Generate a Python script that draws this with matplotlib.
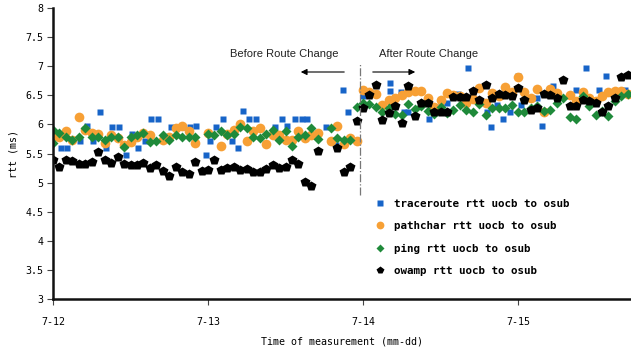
import matplotlib
matplotlib.use("Agg")
import matplotlib.pyplot as plt
import numpy as np

# ---- data (hours since 7-12 00:00) ----
owamp_h = list(range(0, 42)) + list(range(44, 90))
owamp_v = [5.39, 5.27, 5.39, 5.37, 5.32, 5.32, 5.35, 5.53, 5.39, 5.33, 5.44, 5.32, 5.31, 5.31,
           5.33, 5.25, 5.30, 5.20, 5.11, 5.27, 5.19, 5.14, 5.35, 5.20, 5.22, 5.38, 5.21, 5.25,
           5.27, 5.22, 5.23, 5.19, 5.19, 5.23, 5.30, 5.25, 5.27, 5.38, 5.32, 5.01, 4.94, 5.55,
           5.59, 5.19, 5.27, 6.06,
           6.29, 6.50, 6.67, 6.08, 6.19, 6.31, 6.03, 6.66, 6.14, 6.37, 6.37, 6.21, 6.21, 6.21,
           6.47, 6.47, 6.47, 6.57, 6.42, 6.67, 6.45, 6.52, 6.50, 6.48, 6.62, 6.42, 6.25, 6.29,
           6.52, 6.50, 6.45, 6.76, 6.32, 6.32, 6.42, 6.40, 6.36, 6.21, 6.32, 6.45, 6.82, 6.85]

ping_h = [0, 0] + list(range(1, 23)) + list(range(24, 42)) + list(range(43, 90))
ping_v = [5.90, 5.68, 5.85, 5.79, 5.74, 5.79, 5.93, 5.79, 5.79, 5.74, 5.79, 5.78, 5.62, 5.78,
          5.81, 5.85, 5.69, 5.72, 5.82, 5.73, 5.81, 5.79, 5.79, 5.79,
          5.83, 5.81, 5.89, 5.82, 5.83, 5.96, 5.93, 5.79, 5.76, 5.83, 5.90, 5.73, 5.88, 5.63,
          5.79, 5.82, 5.94, 5.75,
          5.94, 5.77, 5.73, 5.73, 6.30,
          6.36, 6.35, 6.30, 6.22, 6.28, 6.18, 6.16, 6.35, 6.26, 6.32, 6.23, 6.18, 6.30, 6.19,
          6.24, 6.33, 6.25, 6.22, 6.35, 6.16, 6.28, 6.29, 6.28, 6.34, 6.22, 6.22, 6.29, 6.32,
          6.23, 6.25, 6.36, 6.45, 6.13, 6.10, 6.49, 6.32, 6.16, 6.23, 6.15, 6.40, 6.49, 6.52]

pathchar_h = (list(range(0, 16)) + list(range(17, 23)) + [24] + list(range(26, 42))
              + list(range(43, 79)) + list(range(80, 90)))
pathchar_v = [5.80, 5.78, 5.89, 5.73, 6.13, 5.90, 5.85, 5.83, 5.68, 5.81, 5.76, 5.65, 5.70, 5.78,
              5.85, 5.82, 5.74, 5.78, 5.93, 5.97, 5.88, 5.68, 5.85,
              5.63, 5.83, 5.90, 6.00, 5.72, 5.88, 5.93, 5.67, 5.82, 5.82, 5.73, 5.73, 5.88, 5.77,
              5.82, 5.85,
              5.72, 5.98, 5.67, 5.77, 5.72, 6.59, 6.55, 6.53, 6.33, 6.42, 6.46, 6.50, 6.55, 6.57,
              6.57, 6.46, 6.30, 6.42, 6.54, 6.50, 6.49, 6.36, 6.43, 6.62, 6.37, 6.54, 6.49, 6.64,
              6.55, 6.82, 6.56, 6.45, 6.61, 6.22, 6.60, 6.54,
              6.50, 6.41, 6.55, 6.45, 6.40, 6.48, 6.56, 6.58, 6.57, 6.53]

trace_h = [1.2, 2.2, 4.2, 5.2, 6.2, 7.2, 8.2, 9.2, 10.2, 11.3, 12.3, 13.2, 14.2, 15.2, 16.2,
           18.2, 20.2, 21.2, 22.2, 23.7, 24.3, 25.3, 26.4, 27.7, 28.7, 29.4, 30.4, 31.5, 34.3,
           35.4, 36.3, 37.4, 38.5, 39.4, 42.3, 43.8, 44.9, 45.6,
           48.0, 52.2, 52.2, 53.9, 54.3, 55.0, 58.2, 60.0, 61.0, 62.7, 64.3, 67.2, 67.8, 68.8,
           69.6, 70.7, 72.0, 72.5, 74.9, 75.7, 77.4, 81.0, 82.6, 84.6, 85.6, 88.5]
trace_v = [5.59, 5.59, 5.71, 5.97, 5.71, 6.22, 5.59, 5.96, 5.95, 5.47, 5.83, 5.59, 5.72, 6.10,
           6.09, 5.96, 5.96, 5.96, 5.97, 5.47, 5.72, 5.96, 6.09, 5.72, 5.60, 6.23, 6.09, 6.10,
           5.96, 6.09, 5.98, 6.10, 6.09, 6.09, 5.96, 5.65, 6.59, 6.22,
           6.48, 6.71, 6.58, 6.56, 6.22, 6.22, 6.09, 6.35, 6.36, 6.52, 6.97, 6.22, 5.96, 6.34,
           6.10, 6.22, 6.84, 6.34, 6.45, 5.97, 6.66, 6.59, 6.97, 6.59, 6.84, 6.59]

xtick_pos = [0, 1, 2, 3]
xtick_labels = ["7-12", "7-13", "7-14", "7-15"]
ytick_vals = [3, 3.5, 4, 4.5, 5, 5.5, 6, 6.5, 7, 7.5, 8]

labels = ["traceroute rtt uocb to osub", "pathchar rtt uocb to osub",
          "ping rtt uocb to osub", "owamp rtt uocb to osub"]
colors = ["#1764c8", "#f7a035", "#1f8a3a", "#000000"]

W, H = 631, 347
fig = plt.figure(figsize=(W / 100, H / 100), dpi=100)
L, R, T, B = 53, 631, 8, 299
ax = fig.add_axes([L / W, 1 - B / H, (R - L) / W, (B - T) / H])

mono = "DejaVu Sans Mono"
d = lambda h: np.asarray(h) / 24.0

ax.plot(d(trace_h), trace_v, ls="none", marker="s", ms=5, color=colors[0], mec="none", label=labels[0])
ax.plot(d(pathchar_h), pathchar_v, ls="none", marker="o", ms=7, color=colors[1], mec="none", label=labels[1])
ax.plot(d(ping_h), ping_v, ls="none", marker="D", ms=4.8, color=colors[2], mec="none", label=labels[2])
ax.plot(d(owamp_h), owamp_v, ls="none", marker="p", ms=7.5, color=colors[3], mec="none", label=labels[3])

ax.set_xlim(0, (R - L) / 155.0)
ax.set_ylim(3, 8)
ax.set_xticks(xtick_pos)
ax.set_xticklabels(xtick_labels, fontfamily=mono, fontsize=7.2)
ax.set_yticks(ytick_vals)
ax.set_yticklabels(["%g" % v for v in ytick_vals], fontfamily=mono, fontsize=7.2)
ax.tick_params(axis="both", direction="out", length=4, width=0.8, color="#444444", pad=3)
ax.tick_params(axis="x", pad=9)

for s in ["top", "right"]:
    ax.spines[s].set_visible(False)
for s in ["left", "bottom"]:
    ax.spines[s].set_linewidth(1.8)
    ax.spines[s].set_color("#111111")

ax.set_xlabel("Time of measurement (mm-dd)", fontfamily=mono, fontsize=7.2)
ax.set_ylabel("rtt (ms)", fontfamily=mono, fontsize=7.2)
ax.xaxis.set_label_coords(0.5, -(336 - 299) / (B - T))
ax.yaxis.set_label_coords((18 - L) / (R - L), 0.5)

# route change marker
xc = (360 - L) / 155.0
ax.plot([xc, xc], [4.79, 7.06], color="#777777", lw=0.9, ls="-.")
ya = 8 - (72 - 8) / 58.2
ax.annotate("", xy=((298 - L) / 155.0, ya), xytext=((347 - L) / 155.0, ya),
            arrowprops=dict(arrowstyle="-|>", color="black", lw=0.8, mutation_scale=9))
ax.annotate("", xy=((418 - L) / 155.0, ya), xytext=((370 - L) / 155.0, ya),
            arrowprops=dict(arrowstyle="-|>", color="black", lw=0.8, mutation_scale=9))
yt = 8 - (54 - 8) / 58.2
ax.text((284 - L) / 155.0, yt, "Before Route Change", ha="center", va="center",
        fontfamily="Liberation Sans", fontsize=8, color="#222222")
ax.text((429 - L) / 155.0, yt, "After Route Change", ha="center", va="center",
        fontfamily="Liberation Sans", fontsize=8, color="#222222")

leg = ax.legend(loc="upper left", bbox_to_anchor=((375 - L) / (R - L), 1 - (199 - T) / (B - T)),
                frameon=False, borderpad=0, borderaxespad=0, handlelength=1.0,
                handletextpad=0.8, labelspacing=1.13, markerscale=0.8,
                prop=dict(family=mono, size=7.8, weight="bold"))

fig.savefig("out.png", dpi=100)
